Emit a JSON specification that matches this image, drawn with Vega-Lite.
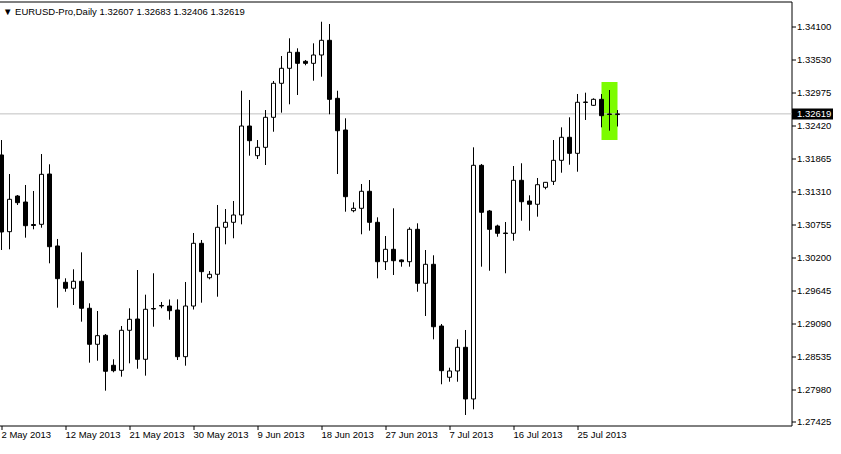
{
  "$schema": "https://vega.github.io/schema/vega-lite/v6.json",
  "width": 793,
  "height": 424,
  "autosize": {"type": "none"},
  "padding": {"left": -1.5, "top": 1.5, "right": 49.5, "bottom": 28.5},
  "background": "white",
  "config": {
    "view": {"stroke": "black", "strokeWidth": 1, "fill": "white"},
    "font": "Liberation Sans",
    "axis": {"labelOverlap": false},
    "axisY": {"labelOverlap": false},
    "axisRight": {"labelOverlap": false}
  },
  "title": {
    "text": "▼ EURUSD-Pro,Daily  1.32607 1.32683 1.32406 1.32619",
    "anchor": "start",
    "frame": "group",
    "orient": "top",
    "offset": -23,
    "dx": 4.5,
    "font": "Liberation Sans",
    "fontSize": 9.5,
    "fontWeight": "normal",
    "color": "black",
    "baseline": "alphabetic"
  },
  "datasets": {
    "candles": [
      {"d": "2013-05-02", "o": 1.31926, "h": 1.32178, "l": 1.30324, "c": 1.30628},
      {"d": "2013-05-03", "o": 1.30633, "h": 1.31605, "l": 1.30336, "c": 1.31179},
      {"d": "2013-05-05", "o": 1.31234, "h": 1.31251, "l": 1.31083, "c": 1.31122},
      {"d": "2013-05-06", "o": 1.31133, "h": 1.31420, "l": 1.30532, "c": 1.30734},
      {"d": "2013-05-07", "o": 1.30754, "h": 1.31319, "l": 1.30673, "c": 1.30737},
      {"d": "2013-05-08", "o": 1.30757, "h": 1.31942, "l": 1.30700, "c": 1.31600},
      {"d": "2013-05-09", "o": 1.31605, "h": 1.31769, "l": 1.30100, "c": 1.30380},
      {"d": "2013-05-10", "o": 1.30392, "h": 1.30510, "l": 1.29352, "c": 1.29841},
      {"d": "2013-05-12", "o": 1.29780, "h": 1.29847, "l": 1.29621, "c": 1.29679},
      {"d": "2013-05-13", "o": 1.29679, "h": 1.29999, "l": 1.29397, "c": 1.29797},
      {"d": "2013-05-14", "o": 1.29797, "h": 1.30285, "l": 1.29116, "c": 1.29342},
      {"d": "2013-05-15", "o": 1.29342, "h": 1.29426, "l": 1.28425, "c": 1.28735},
      {"d": "2013-05-16", "o": 1.28735, "h": 1.29296, "l": 1.28458, "c": 1.28880},
      {"d": "2013-05-17", "o": 1.28886, "h": 1.28908, "l": 1.27953, "c": 1.28280},
      {"d": "2013-05-19", "o": 1.28381, "h": 1.28482, "l": 1.28263, "c": 1.28290},
      {"d": "2013-05-20", "o": 1.28296, "h": 1.29043, "l": 1.28189, "c": 1.28971},
      {"d": "2013-05-21", "o": 1.28971, "h": 1.29342, "l": 1.28414, "c": 1.29156},
      {"d": "2013-05-22", "o": 1.29161, "h": 1.29987, "l": 1.28323, "c": 1.28482},
      {"d": "2013-05-23", "o": 1.28482, "h": 1.29571, "l": 1.28206, "c": 1.29325},
      {"d": "2013-05-24", "o": 1.29338, "h": 1.29932, "l": 1.29031, "c": 1.29330},
      {"d": "2013-05-26", "o": 1.29389, "h": 1.29448, "l": 1.29342, "c": 1.29380},
      {"d": "2013-05-27", "o": 1.29380, "h": 1.29490, "l": 1.29149, "c": 1.29301},
      {"d": "2013-05-28", "o": 1.29313, "h": 1.29493, "l": 1.28470, "c": 1.28526},
      {"d": "2013-05-29", "o": 1.28526, "h": 1.29785, "l": 1.28374, "c": 1.29380},
      {"d": "2013-05-30", "o": 1.29380, "h": 1.30611, "l": 1.29321, "c": 1.30437},
      {"d": "2013-05-31", "o": 1.30437, "h": 1.30493, "l": 1.29436, "c": 1.29959},
      {"d": "2013-06-02", "o": 1.29857, "h": 1.29970, "l": 1.29830, "c": 1.29915},
      {"d": "2013-06-03", "o": 1.29915, "h": 1.31083, "l": 1.29537, "c": 1.30707},
      {"d": "2013-06-04", "o": 1.30707, "h": 1.31015, "l": 1.30420, "c": 1.30791},
      {"d": "2013-06-05", "o": 1.30791, "h": 1.31150, "l": 1.30522, "c": 1.30914},
      {"d": "2013-06-06", "o": 1.30914, "h": 1.33009, "l": 1.30757, "c": 1.32414},
      {"d": "2013-06-07", "o": 1.32414, "h": 1.32853, "l": 1.31914, "c": 1.32167},
      {"d": "2013-06-09", "o": 1.31914, "h": 1.32178, "l": 1.31858, "c": 1.32055},
      {"d": "2013-06-10", "o": 1.32055, "h": 1.32684, "l": 1.31757, "c": 1.32561},
      {"d": "2013-06-11", "o": 1.32561, "h": 1.33173, "l": 1.32318, "c": 1.33134},
      {"d": "2013-06-12", "o": 1.33134, "h": 1.33594, "l": 1.32639, "c": 1.33387},
      {"d": "2013-06-13", "o": 1.33387, "h": 1.33893, "l": 1.32780, "c": 1.33657},
      {"d": "2013-06-14", "o": 1.33657, "h": 1.33724, "l": 1.32937, "c": 1.33471},
      {"d": "2013-06-16", "o": 1.33505, "h": 1.33527, "l": 1.33438, "c": 1.33471},
      {"d": "2013-06-17", "o": 1.33471, "h": 1.33808, "l": 1.33178, "c": 1.33611},
      {"d": "2013-06-18", "o": 1.33611, "h": 1.34172, "l": 1.33245, "c": 1.33859},
      {"d": "2013-06-19", "o": 1.33859, "h": 1.34134, "l": 1.32612, "c": 1.32864},
      {"d": "2013-06-20", "o": 1.32881, "h": 1.33009, "l": 1.31605, "c": 1.32335},
      {"d": "2013-06-21", "o": 1.32347, "h": 1.32544, "l": 1.30970, "c": 1.31223},
      {"d": "2013-06-23", "o": 1.30987, "h": 1.31128, "l": 1.30960, "c": 1.31027},
      {"d": "2013-06-24", "o": 1.31027, "h": 1.31437, "l": 1.30589, "c": 1.31314},
      {"d": "2013-06-25", "o": 1.31314, "h": 1.31504, "l": 1.30650, "c": 1.30791},
      {"d": "2013-06-26", "o": 1.30791, "h": 1.30875, "l": 1.29847, "c": 1.30127},
      {"d": "2013-06-27", "o": 1.30127, "h": 1.30560, "l": 1.29987, "c": 1.30336},
      {"d": "2013-06-28", "o": 1.30336, "h": 1.31027, "l": 1.29903, "c": 1.30144},
      {"d": "2013-06-30", "o": 1.30156, "h": 1.30164, "l": 1.30043, "c": 1.30127},
      {"d": "2013-07-01", "o": 1.30127, "h": 1.30707, "l": 1.30043, "c": 1.30673},
      {"d": "2013-07-02", "o": 1.30673, "h": 1.30774, "l": 1.29621, "c": 1.29763},
      {"d": "2013-07-03", "o": 1.29763, "h": 1.30324, "l": 1.29212, "c": 1.30083},
      {"d": "2013-07-04", "o": 1.30083, "h": 1.30235, "l": 1.28819, "c": 1.29031},
      {"d": "2013-07-05", "o": 1.29043, "h": 1.29077, "l": 1.28061, "c": 1.28290},
      {"d": "2013-07-07", "o": 1.28179, "h": 1.28340, "l": 1.28104, "c": 1.28285},
      {"d": "2013-07-08", "o": 1.28285, "h": 1.28819, "l": 1.28104, "c": 1.28684},
      {"d": "2013-07-09", "o": 1.28684, "h": 1.28976, "l": 1.27543, "c": 1.27813},
      {"d": "2013-07-10", "o": 1.27813, "h": 1.32055, "l": 1.27639, "c": 1.31752},
      {"d": "2013-07-11", "o": 1.31752, "h": 1.31774, "l": 1.30043, "c": 1.30960},
      {"d": "2013-07-12", "o": 1.30982, "h": 1.30999, "l": 1.29975, "c": 1.30673},
      {"d": "2013-07-14", "o": 1.30729, "h": 1.30751, "l": 1.30548, "c": 1.30606},
      {"d": "2013-07-15", "o": 1.30611, "h": 1.30796, "l": 1.29932, "c": 1.30602},
      {"d": "2013-07-16", "o": 1.30606, "h": 1.31740, "l": 1.30481, "c": 1.31499},
      {"d": "2013-07-17", "o": 1.31499, "h": 1.31786, "l": 1.30818, "c": 1.31138},
      {"d": "2013-07-18", "o": 1.31150, "h": 1.31246, "l": 1.30650, "c": 1.31095},
      {"d": "2013-07-19", "o": 1.31095, "h": 1.31538, "l": 1.30886, "c": 1.31425},
      {"d": "2013-07-21", "o": 1.31381, "h": 1.31470, "l": 1.31347, "c": 1.31465},
      {"d": "2013-07-22", "o": 1.31482, "h": 1.32178, "l": 1.31420, "c": 1.31836},
      {"d": "2013-07-23", "o": 1.31836, "h": 1.32392, "l": 1.31627, "c": 1.32224},
      {"d": "2013-07-24", "o": 1.32224, "h": 1.32561, "l": 1.31762, "c": 1.31954},
      {"d": "2013-07-25", "o": 1.31954, "h": 1.32954, "l": 1.31644, "c": 1.32814},
      {"d": "2013-07-26", "o": 1.32811, "h": 1.32976, "l": 1.32516, "c": 1.32819},
      {"d": "2013-07-28", "o": 1.32763, "h": 1.32881, "l": 1.32752, "c": 1.32864},
      {"d": "2013-07-29", "o": 1.32864, "h": 1.32954, "l": 1.32392, "c": 1.32588},
      {"d": "2013-07-30", "o": 1.32617, "h": 1.33021, "l": 1.32335, "c": 1.32608},
      {"d": "2013-07-31", "o": 1.32607, "h": 1.32683, "l": 1.32406, "c": 1.32619}
    ],
    "box": [
      {"d": "2013-07-29", "d2": "2013-07-31", "p1": 1.33156, "p2": 1.32178}
    ]
  },
  "encoding": {
    "y": {
      "type": "quantitative",
      "scale": {"domain": [1.27366, 1.34513], "nice": false, "zero": false},
      "axis": {
        "title": null,
        "orient": "right",
        "values": [1.341, 1.3353, 1.32975, 1.32619, 1.3242, 1.31865, 1.3131, 1.30755, 1.302, 1.29645, 1.2909, 1.28535, 1.2798, 1.27425],
        "format": ".5f",
        "labelFontSize": 9.5,
        "labelFont": "Liberation Sans",
        "labelColor": {"condition": {"test": "datum.value == 1.32619", "value": "white"}, "value": "black"},
        "labelPadding": {"condition": {"test": "datum.value == 1.32619", "value": -36}, "value": 1},
        "labelOverlap": false,
        "labelBaseline": "middle",
        "tickSize": {"condition": {"test": "datum.value == 1.32619", "value": 41}, "value": 4},
        "tickWidth": {"condition": {"test": "datum.value == 1.32619", "value": 11}, "value": 1},
        "tickCap": "butt",
        "tickColor": "black",
        "domain": false,
        "grid": false
      }
    }
  },
  "layer": [
    {
      "data": {"name": "box"},
      "mark": {"type": "rect", "color": "#7cfc00", "opacity": 1},
      "encoding": {
        "x": {"field": "d", "type": "ordinal", "sort": "ascending", "bandPosition": 0.5},
        "x2": {"field": "d2", "bandPosition": 0.5},
        "y": {"field": "p1", "type": "quantitative"},
        "y2": {"field": "p2"}
      }
    },
    {
      "data": {"name": "candles"},
      "transform": [{"filter": "datum.d == '2013-07-31'"}],
      "mark": {"type": "rule", "color": "#c0c0c0", "strokeWidth": 1},
      "encoding": {
        "y": {"field": "c", "type": "quantitative"}
      }
    },
    {
      "data": {"name": "candles"},
      "mark": {"type": "rule", "color": "black", "strokeWidth": 1},
      "encoding": {
        "x": {
          "field": "d",
          "type": "ordinal",
          "sort": "ascending",
          "scale": {"type": "band", "range": [-1, 623], "paddingInner": 0, "paddingOuter": 0},
          "axis": {
            "title": null,
            "orient": "bottom",
            "values": ["2013-05-02", "2013-05-12", "2013-05-21", "2013-05-30", "2013-06-09", "2013-06-18", "2013-06-27", "2013-07-07", "2013-07-16", "2013-07-25"],
            "labelExpr": "utcFormat(toDate(datum.value), '%-d %b %Y')",
            "labelAlign": "left",
            "labelAngle": 0,
            "labelBaseline": "top",
            "labelPadding": 0,
            "labelFontSize": 9.5,
            "labelFont": "Liberation Sans",
            "labelColor": "black",
            "labelOverlap": false,
            "tickSize": 4,
            "tickColor": "black",
            "domain": false,
            "grid": false
          }
        },
        "y": {"field": "l", "type": "quantitative"},
        "y2": {"field": "h"}
      }
    },
    {
      "data": {"name": "candles"},
      "mark": {"type": "bar", "size": 4, "stroke": "black", "strokeWidth": 1},
      "encoding": {
        "x": {"field": "d", "type": "ordinal", "sort": "ascending"},
        "y": {"field": "o", "type": "quantitative"},
        "y2": {"field": "c"},
        "fill": {"condition": {"test": "datum.c >= datum.o", "value": "white"}, "value": "black"}
      }
    }
  ]
}
